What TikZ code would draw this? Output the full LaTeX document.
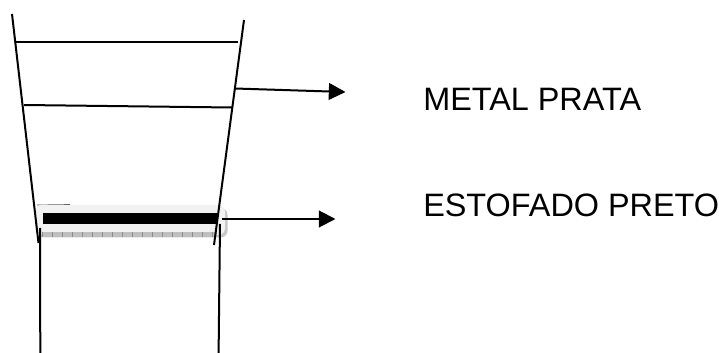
\documentclass[tikz,border=0pt]{standalone}
\usepackage{fontspec}
\setmainfont{Liberation Sans}
\usetikzlibrary{positioning}
\usetikzlibrary{arrows.meta}
\tikzset{
	wall/.style={line width=1.5pt, black},
	pointer/.style={line width=1.5pt, black, -{Triangle[length=12.5pt,width=12.5pt]}},
	caption/.style={anchor=base west, inner sep=0pt, font=\fontsize{24.3pt}{28pt}\selectfont},
}

\begin{document}
\begin{tikzpicture}[x=0.75pt,y=-0.75pt]
	
	\useasboundingbox (0,0) rectangle (719,353);
	
	% ------------------------------------------------
	% Relevant coordinates
	\coordinate (TopL) at (12,14);
	\coordinate (BotL) at (38.5,243);
	\coordinate (TopR) at (244,20);
	\coordinate (BotR) at (214,245);
	
	\coordinate (Rim1L) at (16,42.5);
	\coordinate (Rim1R) at (238,42.5);
	\coordinate (Rim2L) at (24,105);
	\coordinate (Rim2R) at (232,107.5);
	
	\coordinate (BaseTL) at (40,228);
	\coordinate (BaseBL) at (40.3,353);
	\coordinate (BaseTR) at (220,224);
	\coordinate (BaseBR) at (218.6,353);
	
	\coordinate (Ptr1Beg) at (235,88.5);
	\coordinate (Ptr1End) at (345.5,92);
	\coordinate (Ptr2Beg) at (222,219);
	\coordinate (Ptr2End) at (335.5,219);
	
	% ------------------------------------------------
	% Padded band
	\fill[black!22, rounded corners=5pt] (38,208) rectangle (227.5,237.5);
	\draw[black!70, line width=0.5pt] (37,205) -- (70,204.5);
	\fill[black!5, rounded corners=5pt] (35,205) rectangle (225,235);
	\fill[black!25] (42,232) rectangle (217,237.5);
	\foreach \tickx in {42,52,...,212}
		\draw[black!45, line width=0.3pt] (\tickx,232) -- (\tickx,237.5);
	\fill[black] (42.5,213) rectangle (217,224.5);
	
	% ------------------------------------------------
	% Cup
	\draw[wall] (TopL) -- (BotL);
	\draw[wall] (TopR) -- (BotR);
	\draw[wall] (Rim1L) -- (Rim1R);
	\draw[wall] (Rim2L) -- (Rim2R);
	\draw[wall] (BaseTL) -- (BaseBL);
	\draw[wall] (BaseTR) -- (BaseBR);
	
	% Pointers and their labels
	\draw[pointer] (Ptr1Beg) -- (Ptr1End);
	\draw[pointer] (Ptr2Beg) -- (Ptr2End);
	
	\node[caption] (Metal) at (423,110.7) {METAL PRATA};
	\node[caption] (Padding) at (423,217) {ESTOFADO PRETO};
	
\end{tikzpicture}
\end{document}
